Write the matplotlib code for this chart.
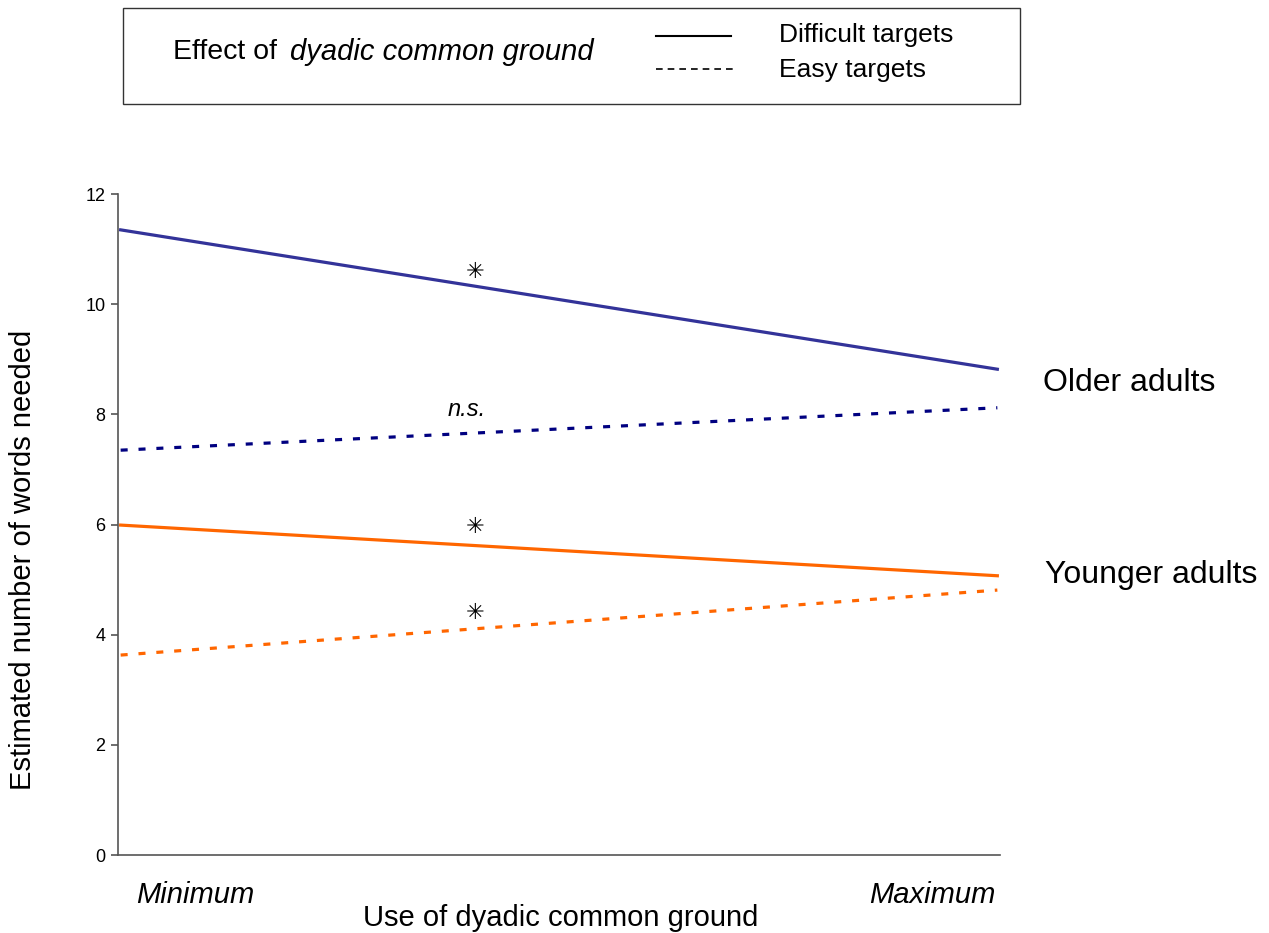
import matplotlib
matplotlib.use("Agg")
import matplotlib.pyplot as plt
from matplotlib.lines import Line2D
from matplotlib.patches import Rectangle

plt.rcParams['font.family'] = ['Liberation Sans', 'DejaVu Sans']

# x runs from minimum to maximum use of dyadic common ground
x = [0.0, 1.0]
older_difficult = [11.35, 8.82]
older_easy = [7.35, 8.12]
younger_difficult = [5.99, 5.07]
younger_easy = [3.63, 4.81]

yticks = [0, 2, 4, 6, 8, 10, 12]

# significance marks: (x, y, text, italic)
marks = [(0.404, 10.58, "\u2733", False),
         (0.395, 8.08, "n.s.", True),
         (0.404, 5.95, "\u2733", False),
         (0.404, 4.39, "\u2733", False)]

fig = plt.figure(figsize=(12.69, 9.33), dpi=100)
ax = fig.add_axes([0.093, 0.0836, 0.695, 0.7084])

ax.plot(x, older_difficult, color="#333399", lw=2.3)
ax.plot(x, older_easy, color="#000080", lw=2.3, ls=(0, (2.2, 3.4)))
ax.plot(x, younger_difficult, color="#FF6600", lw=2.3)
ax.plot(x, younger_easy, color="#FF6600", lw=2.3, ls=(0, (2.2, 3.4)))

ax.set_xlim(-0.003, 1.003)
ax.set_ylim(0, 12)
ax.set_yticks(yticks)
ax.set_yticklabels([str(t) for t in yticks], fontsize=13)
ax.set_xticks([])
for s in ["top", "right"]:
    ax.spines[s].set_visible(False)
for s in ["left", "bottom"]:
    ax.spines[s].set_color("#555555")
    ax.spines[s].set_linewidth(1.2)
ax.tick_params(axis="y", length=5, width=1.2, color="#555555", pad=4)

for mx, my, txt, it in marks:
    if it:
        ax.text(mx, my, txt, fontsize=17, style="italic", ha="center", va="center")
    else:
        ax.text(mx, my, txt, fontsize=16, family="DejaVu Sans", ha="center", va="center")

ax.set_ylabel("Estimated number of words needed", fontsize=21)
ax.yaxis.set_label_coords(-0.092, 0.446)
ax.text(0.02, -0.06, "Minimum", transform=ax.transAxes, fontsize=21, style="italic",
        ha="left", va="center")
ax.text(0.995, -0.06, "Maximum", transform=ax.transAxes, fontsize=21, style="italic",
        ha="right", va="center")
fig.text(561 / 1269, 1 - 918 / 933, "Use of dyadic common ground", fontsize=21,
         ha="center", va="center")

fig.text(1043 / 1269, 1 - 383 / 933, "Older adults", fontsize=23, ha="left", va="center")
fig.text(1045 / 1269, 1 - 575 / 933, "Younger adults", fontsize=23, ha="left", va="center")

# key box on top
W, H = 1269.0, 933.0
fig.patches.append(Rectangle((123 / W, 1 - 104 / H), (1020 - 123) / W, (104 - 8) / H,
                             transform=fig.transFigure, fill=False, ec="#333333", lw=1.0))
fig.text(173 / W, 1 - 52 / H, "Effect of", fontsize=20.5, ha="left", va="center")
fig.text(290 / W, 1 - 52 / H, "dyadic common ground", fontsize=21, style="italic",
         ha="left", va="center")
fig.lines.append(Line2D([656 / W, 731 / W], [1 - 36 / H, 1 - 36 / H],
                        transform=fig.transFigure, color="black", lw=1.5))
fig.lines.append(Line2D([656 / W, 733 / W], [1 - 69 / H, 1 - 69 / H],
                        transform=fig.transFigure, color="black", lw=1.2,
                        ls=(0, (4, 3))))
fig.text(779 / W, 1 - 35 / H, "Difficult targets", fontsize=19, ha="left", va="center")
fig.text(779 / W, 1 - 70 / H, "Easy targets", fontsize=19, ha="left", va="center")

fig.savefig("out.png", dpi=100)
